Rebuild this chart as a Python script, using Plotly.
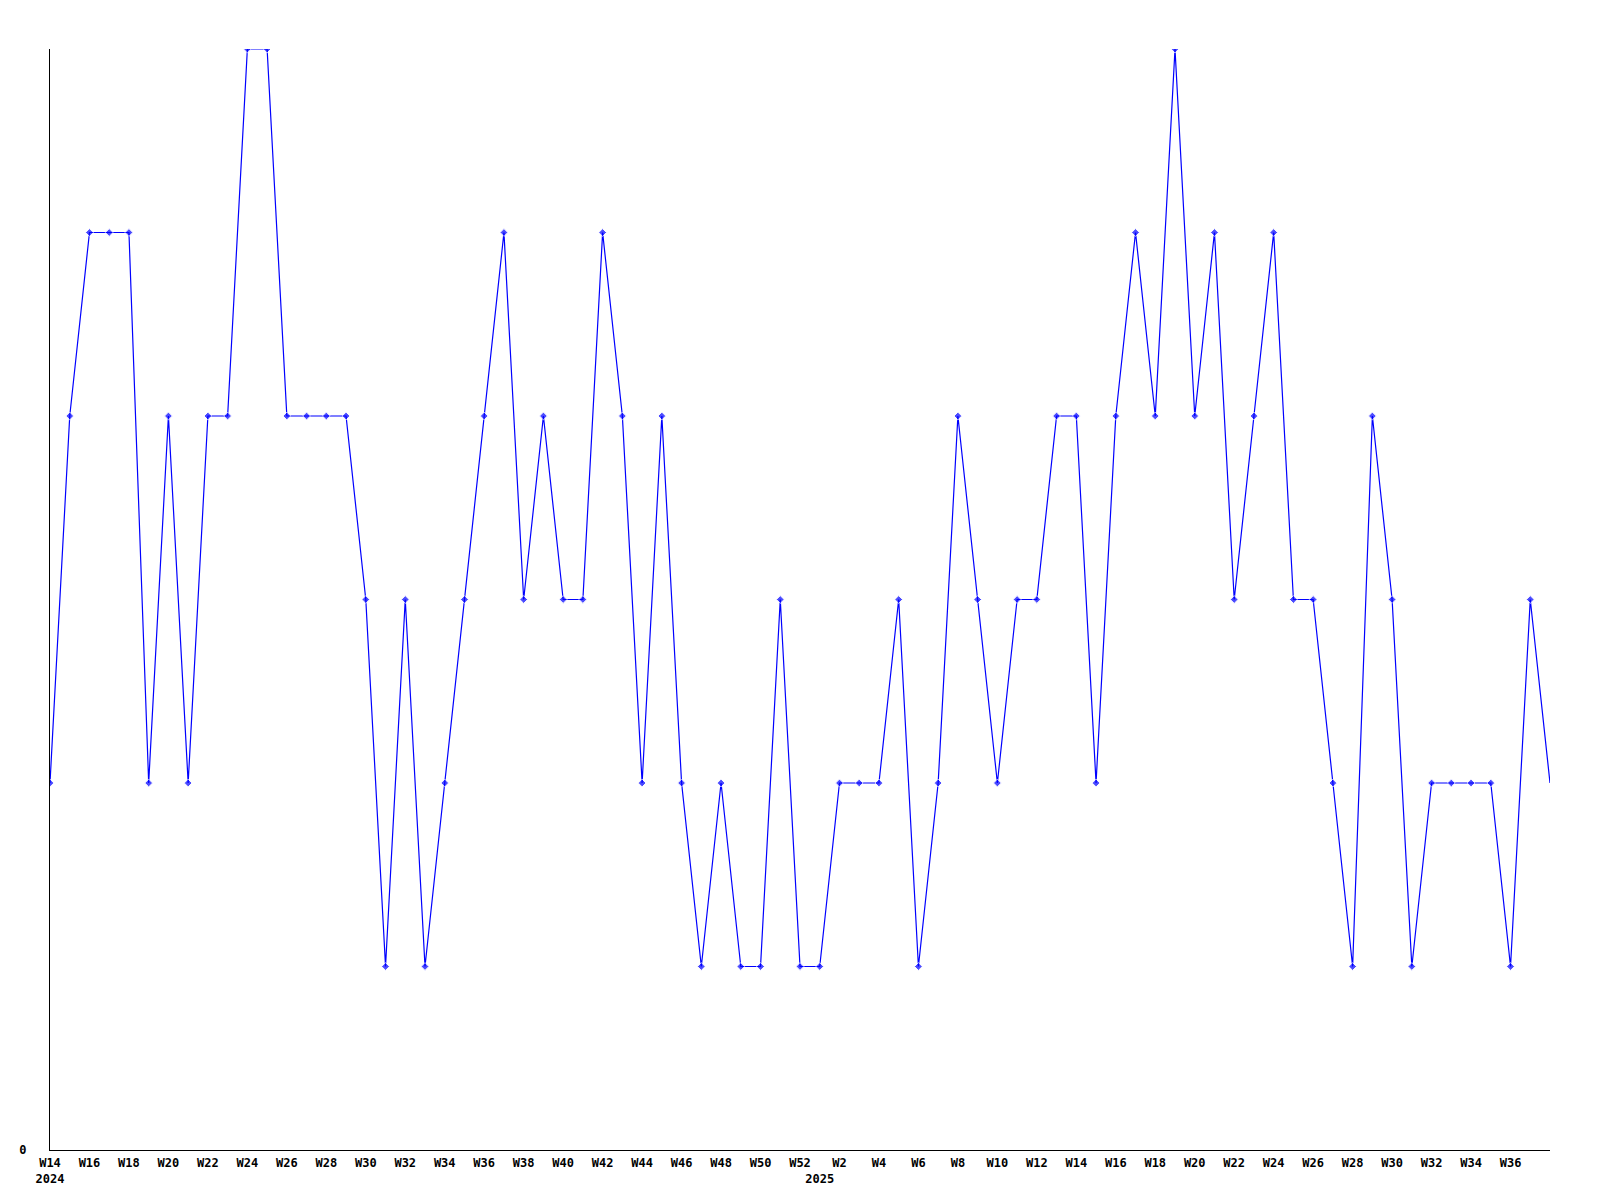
import plotly.graph_objects as go

# weekly counts, ISO weeks 2024-W14 .. 2025-W38
years = [2024] * 39 + [2025] * 38
weeks = list(range(14, 53)) + list(range(1, 39))
values = [2, 4, 5, 5, 5, 2, 4, 2, 4, 4,
          6, 6, 4, 4, 4, 4, 3, 1, 3, 1,
          2, 3, 4, 5, 3, 4, 3, 3, 5, 4,
          2, 4, 2, 1, 2, 1, 1, 3, 1, 1,
          2, 2, 2, 3, 1, 2, 4, 3, 2, 3,
          3, 4, 4, 2, 4, 5, 4, 6, 4, 5,
          3, 4, 5, 3, 3, 2, 1, 4, 3, 1,
          2, 2, 2, 2, 1, 3, 2]

idx = list(range(len(values)))

tickvals = []
ticktext = []
for i, (y, w) in enumerate(zip(years, weeks)):
    if i == len(values) - 1:
        break
    first_of_year = i == 0 or years[i - 1] != y
    if w % 2 == 0:
        tickvals.append(i)
        ticktext.append(f"W{w}<br>{y}" if first_of_year else f"W{w}")
    elif first_of_year:
        tickvals.append(i)
        ticktext.append(f"<br>{y}")

sizes = [6] * (len(values) - 1) + [0]

fig = go.Figure()
fig.add_trace(go.Scatter(
    x=idx,
    y=values,
    mode="lines+markers",
    line=dict(color="#0000ff", width=1.2),
    marker=dict(color="#0000ff", size=sizes, symbol="diamond"),
    showlegend=False))

# page body has an 8px margin, so the figure is a bit smaller than the window
fig.update_layout(
    width=1584,
    height=1184,
    autosize=False,
    margin=dict(l=42, r=42, t=41, b=42),
    paper_bgcolor="white",
    plot_bgcolor="white",
    font=dict(family="DejaVu Sans Mono", size=12, color="black", weight="bold"),
    xaxis=dict(
        range=[0, len(values) - 1],
        tickvals=tickvals,
        ticktext=ticktext,
        showgrid=False,
        zeroline=False,
        showline=True,
        linecolor="black",
        linewidth=1,
        ticks="",
        tickangle=0,
        ticklabelstandoff=2,
        automargin=False),
    yaxis=dict(
        range=[0, 6],
        tickvals=[0],
        ticktext=["0"],
        showgrid=False,
        zeroline=False,
        showline=True,
        linecolor="black",
        linewidth=1,
        ticks="",
        ticklabelstandoff=20,
        automargin=False))

fig.write_html("out.html")
